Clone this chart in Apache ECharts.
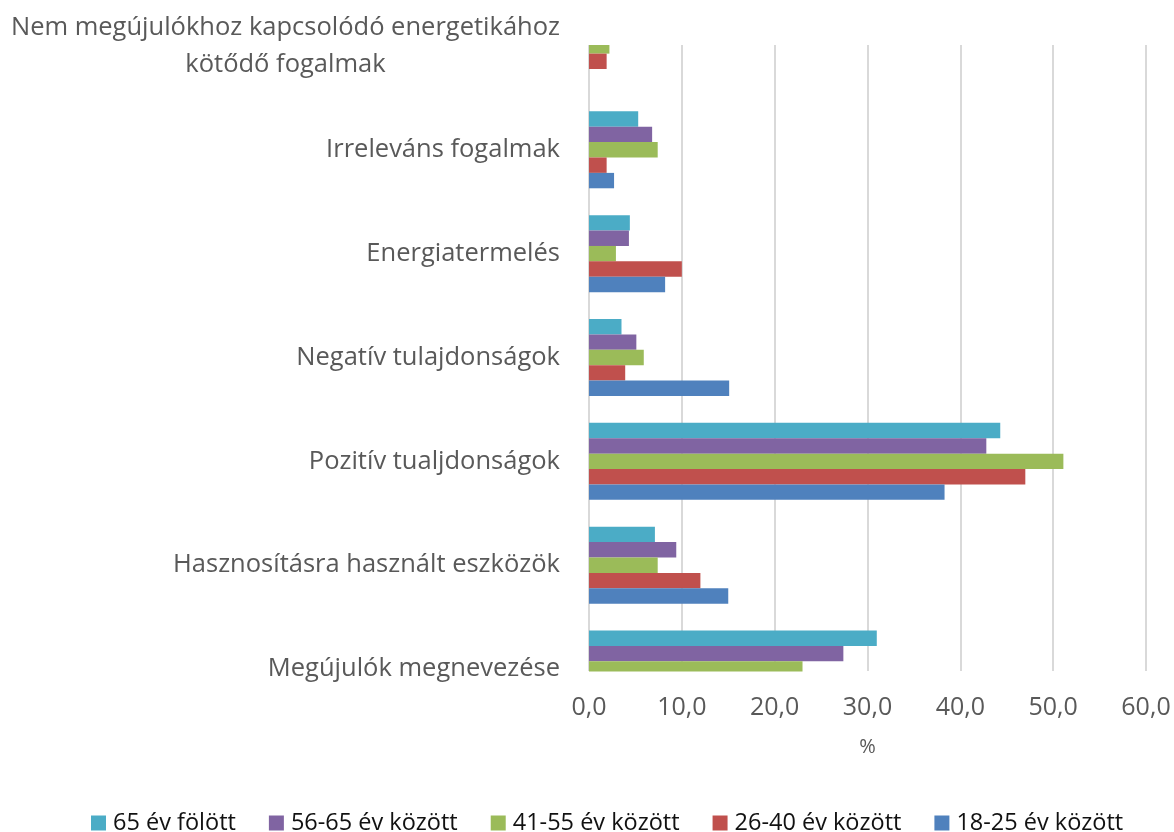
<!DOCTYPE html>
<html>
<head>
<meta charset="utf-8">
<script src="https://cdn.jsdelivr.net/npm/echarts@6/dist/echarts.min.js"></script>
<style>
html, body { margin: 0; padding: 0; background: #fff; }
#chart { width: 1174px; height: 832px; }
</style>
</head>
<body>
<div id="chart"></div>
<script>
// categories from top to bottom
var categories = [
	'Nem megújulókhoz kapcsolódó energetikához\nkötődő fogalmak',
	'Irreleváns fogalmak',
	'Energiatermelés',
	'Negatív tulajdonságok',
	'Pozitív tualjdonságok',
	'Hasznosításra használt eszközök',
	'Megújulók megnevezése'
];
var seriesNames = ['65 év fölött', '56-65 év között', '41-55 év között', '26-40 év között', '18-25 év között'];
// values in %, null where the bar is cut off in the picture
var over65 = [null, 5.3, 4.4, 3.5, 44.3, 7.1, 31.0];
var age56to65 = [null, 6.8, 4.3, 5.1, 42.8, 9.4, 27.4];
var age41to55 = [2.2, 7.4, 2.9, 5.9, 51.1, 7.4, 23.0];
var age26to40 = [1.9, 1.9, 10.0, 3.9, 47.0, 12.0, null];
var age18to25 = [0, 2.7, 8.2, 15.1, 38.3, 15.0, null];
var seriesData = [over65, age56to65, age41to55, age26to40, age18to25];
var colors = ['#4BACC6', '#8064A2', '#9BBB59', '#C0504D', '#4F81BD'];

var myChart = echarts.init(document.getElementById('chart'), null, { renderer: 'canvas' });
var font = '"Open Sans", "DejaVu Sans", sans-serif';

var series = [];
for (var i = 0; i < seriesNames.length; i++) {
	series.push({
		name: seriesNames[i],
		type: 'bar',
		xAxisIndex: 1,
		yAxisIndex: 1,
		barWidth: 15.4,
		barGap: '0%',
		itemStyle: { color: colors[i] },
		data: seriesData[i]
	});
}

var option = {
	animation: false,
	color: colors,
	textStyle: { fontFamily: font },
	grid: [
		// visible plot area (grid lines, x labels)
		{ left: 589, right: 28, top: 45, bottom: 161, outerBoundsMode: 'none', containLabel: false },
		// bar area, taller than the visible one (bars are cut at top and bottom)
		{ left: 589, right: 28, top: -6, bottom: 111, outerBoundsMode: 'none', containLabel: false }
	],
	legend: {
		data: seriesNames,
		left: 86,
		top: 806,
		icon: 'rect',
		itemWidth: 15,
		itemHeight: 15,
		itemGap: 33,
		textStyle: { fontFamily: font, fontSize: 23.5, color: '#111', padding: [0, 0, 0, 2] }
	},
	xAxis: [{
		gridIndex: 0,
		type: 'value',
		min: 0,
		max: 60,
		interval: 10,
		name: '%',
		nameLocation: 'middle',
		nameGap: 66,
		nameTextStyle: { fontFamily: font, fontSize: 20, color: '#595959' },
		axisLine: { show: false },
		axisTick: { show: false },
		splitLine: { lineStyle: { color: '#d9d9d9', width: 2 } },
		axisLabel: {
			fontFamily: font,
			fontSize: 25,
			color: '#595959',
			margin: 24,
			formatter: function(v) { return v.toFixed(1).replace('.', ','); }
		}
	}, {
		gridIndex: 1,
		type: 'value',
		min: 0,
		max: 60,
		show: false
	}],
	yAxis: [{
		gridIndex: 0,
		type: 'value',
		show: false
	}, {
		gridIndex: 1,
		type: 'category',
		inverse: true,
		data: categories,
		axisLine: { show: false },
		axisTick: { show: false },
		splitLine: { show: false },
		axisLabel: {
			margin: 29,
			fontFamily: font,
			fontSize: 25.5,
			color: '#595959',
			formatter: function(v) {
				return v.split('\n').map(function(s) { return '{c|' + s + '}'; }).join('\n');
			},
			rich: {
				c: { align: 'center', fontFamily: font, fontSize: 25.5, color: '#595959', lineHeight: 37 }
			}
		}
	}],
	graphic: [
		{ type: 'rect', left: 586, top: 0, z: 100, shape: { width: 588, height: 45 }, style: { fill: '#fff' } },
		{ type: 'rect', left: 586, top: 671.5, z: 100, shape: { width: 588, height: 12 }, style: { fill: '#fff' } }
	],
	series: series
};

myChart.setOption(option);
</script>
</body>
</html>
